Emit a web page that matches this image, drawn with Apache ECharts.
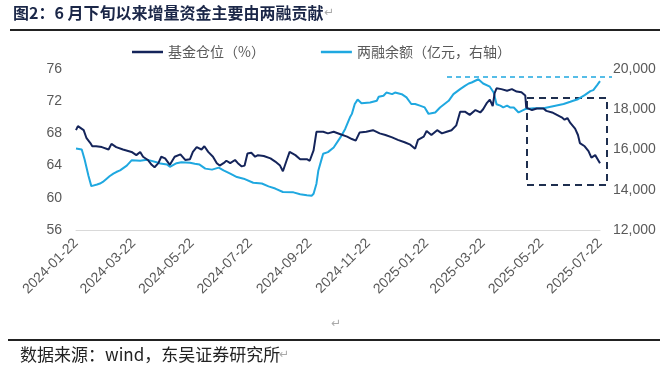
<!DOCTYPE html>
<html><head><meta charset="utf-8">
<script src="https://cdn.jsdelivr.net/npm/echarts@6/dist/echarts.min.js"></script>
<style>html,body{margin:0;padding:0;background:#fff}#c{width:660px;height:371px}</style>
</head><body><div id="c"></div>
<script>
// Tick labels on the date axis
const tickLabels = ['2024-01-22','2024-03-22','2024-05-22','2024-07-22','2024-09-22','2024-11-22','2025-01-22','2025-03-22','2025-05-22','2025-07-22'];
const leftTicks = [56, 60, 64, 68, 72, 76];
const rightTicks = [12000, 14000, 16000, 18000, 20000];

// Series 1: 基金仓位（%）
const fundDates = ['2024-01-22','2024-01-24','2024-01-30','2024-02-02','2024-02-06','2024-02-08','2024-02-12','2024-02-18','2024-02-25','2024-02-28',
'2024-03-04','2024-03-11','2024-03-20','2024-03-25','2024-03-29','2024-04-01','2024-04-06','2024-04-10','2024-04-13','2024-04-17',
'2024-04-20','2024-04-24','2024-04-29','2024-05-04','2024-05-10','2024-05-15','2024-05-20','2024-05-23','2024-05-27','2024-06-01',
'2024-06-04','2024-06-08','2024-06-13','2024-06-17','2024-06-20','2024-06-24','2024-06-27','2024-07-01','2024-07-06','2024-07-09',
'2024-07-13','2024-07-16','2024-07-19','2024-07-23','2024-07-27','2024-07-30','2024-08-05','2024-08-12','2024-08-17','2024-08-22',
'2024-08-25','2024-08-29','2024-09-01','2024-09-07','2024-09-12','2024-09-19','2024-09-22','2024-09-26','2024-09-29','2024-10-06',
'2024-10-11','2024-10-17','2024-10-24','2024-10-31','2024-11-05','2024-11-09','2024-11-13','2024-11-20','2024-11-27','2024-12-04',
'2024-12-10','2024-12-17','2024-12-23','2024-12-30','2025-01-05','2025-01-10','2025-01-12','2025-01-13','2025-01-19','2025-01-22',
'2025-01-27','2025-02-02','2025-02-07','2025-02-12','2025-02-17','2025-02-22','2025-02-26','2025-03-03','2025-03-08','2025-03-14',
'2025-03-19','2025-03-22','2025-03-26','2025-03-29','2025-04-01','2025-04-03','2025-04-05','2025-04-10','2025-04-16','2025-04-21',
'2025-04-26','2025-05-01','2025-05-05','2025-05-06','2025-05-12','2025-05-17','2025-05-24','2025-05-27','2025-06-02','2025-06-07',
'2025-06-12','2025-06-15','2025-06-18','2025-06-21','2025-06-26','2025-06-29','2025-07-01','2025-07-06','2025-07-10','2025-07-13',
'2025-07-17','2025-07-19','2025-07-22'];
const fundValues = [68.4,68.9,68.4,67.4,66.8,66.4,66.4,66.3,66.0,66.7,
66.3,66.0,65.7,65.3,65.7,65.1,64.7,64.1,63.8,64.3,
65.1,64.9,64.1,65.1,65.4,64.7,64.8,65.7,66.3,66.0,
66.4,65.7,65.1,64.3,64.0,64.3,64.6,64.3,64.7,64.3,
63.9,64.0,65.5,65.6,65.1,65.3,65.2,64.9,64.5,64.0,
63.3,64.7,65.7,65.3,64.8,64.8,64.6,65.9,68.2,68.2,
68.0,68.2,67.9,67.6,67.3,67.1,68.1,68.2,68.4,68.0,
67.8,67.5,67.2,66.9,66.6,66.1,66.0,67.2,67.6,68.3,
67.8,68.4,68.0,68.2,68.4,69.0,70.7,70.7,70.3,70.9,
70.6,71.0,71.8,72.2,71.4,73.0,73.6,73.5,73.3,73.5,
73.2,73.1,72.7,71.2,70.9,71.1,71.1,70.8,70.6,70.3,
70.0,69.7,69.9,69.3,68.6,67.8,66.8,66.4,65.8,65.0,
65.3,65.1,64.3];

// Series 2: 两融余额（亿元，右轴）
const marginDates = ['2024-01-22','2024-01-28','2024-01-31','2024-02-04','2024-02-07','2024-02-13','2024-02-16','2024-02-19','2024-02-23','2024-02-26',
'2024-03-01','2024-03-04','2024-03-08','2024-03-15','2024-03-20','2024-03-29','2024-04-05','2024-04-08','2024-04-15','2024-04-19',
'2024-04-26','2024-04-29','2024-05-06','2024-05-11','2024-05-20','2024-05-25','2024-05-30','2024-06-05','2024-06-12','2024-06-19',
'2024-06-24','2024-07-01','2024-07-08','2024-07-15','2024-07-25','2024-08-03','2024-08-10','2024-08-17','2024-08-25','2024-09-05',
'2024-09-12','2024-09-19','2024-09-24','2024-09-26','2024-09-29','2024-10-01','2024-10-04','2024-10-06','2024-10-11','2024-10-17',
'2024-10-24','2024-10-29','2024-10-31','2024-11-03','2024-11-05','2024-11-08','2024-11-11','2024-11-15','2024-11-24','2024-12-01',
'2024-12-03','2024-12-08','2024-12-11','2024-12-17','2024-12-20','2024-12-27','2025-01-01','2025-01-06','2025-01-10','2025-01-15',
'2025-01-20','2025-01-24','2025-01-26','2025-01-27','2025-01-31','2025-02-05','2025-02-14','2025-02-19','2025-02-26','2025-03-03',
'2025-03-07','2025-03-10','2025-03-12','2025-03-17','2025-03-22','2025-03-29','2025-03-31','2025-04-02','2025-04-05','2025-04-09',
'2025-04-12','2025-04-16','2025-04-19','2025-04-23','2025-04-28','2025-04-30','2025-05-05','2025-05-14','2025-05-24','2025-06-03',
'2025-06-14','2025-06-21','2025-06-24','2025-06-29','2025-07-01','2025-07-06','2025-07-12','2025-07-15','2025-07-19','2025-07-22'];
const marginValues = [16050,16000,15500,14700,14180,14260,14310,14390,14550,14670,
14800,14880,14960,15200,15460,15440,15490,15460,15370,15300,
15260,15140,15320,15370,15340,15290,15250,15050,15000,15100,
14960,14800,14630,14550,14350,14310,14170,14060,13890,13870,
13780,13730,13700,13800,14300,14960,15460,15790,15870,16100,
16600,17020,17100,17600,17770,18260,18480,18300,18340,18420,
18620,18670,18830,18750,18830,18750,18590,18260,18260,18180,
18090,17770,17720,17800,17840,18090,18420,18750,19000,19160,
19280,19330,19380,19490,19280,19120,19080,18830,18250,18180,
18090,18180,18090,18090,17840,17930,18010,18050,18050,18150,
18260,18370,18420,18500,18550,18700,18900,18950,19200,19400];

// Calendar-day categories spanning the axis
function pad(n){return n<10?'0'+n:''+n;}
const categories = [];
(function(){
  const start = Date.UTC(2024,0,22), end = Date.UTC(2025,6,22);
  for (let t = start; t <= end; t += 86400000) {
    const d = new Date(t);
    categories.push(d.getUTCFullYear()+'-'+pad(d.getUTCMonth()+1)+'-'+pad(d.getUTCDate()));
  }
})();
const tickSet = new Set(tickLabels);
const fundData = fundDates.map((d,i)=>[d, fundValues[i]]);
const marginData = marginDates.map((d,i)=>[d, marginValues[i]]);

const DARK = '#14245a', LIGHT = '#1fa8e0';
const chart = echarts.init(document.getElementById('c'), null, {renderer:'canvas'});
chart.setOption({
  animation: false,
  backgroundColor: '#fff',
  grid: {left: 76, right: 60, top: 69, height: 161, containLabel: false},
  legend: {
    left: 132, top: 45, padding: 0, icon: 'rect', itemWidth: 31, itemHeight: 2.5, itemGap: 56,
    textStyle: {fontFamily: 'Noto Sans CJK SC', fontSize: 14, color: '#595959'},
    data: ['基金仓位（%）', '两融余额（亿元，右轴）']
  },
  xAxis: {
    type: 'category', data: categories, boundaryGap: false,
    axisLine: {show: true, lineStyle: {color: '#d9d9d9', width: 1}},
    axisTick: {show: false},
    splitLine: {show: false},
    axisLabel: {
      interval: function(idx, val){ return tickSet.has(val); },
      rotate: 45, margin: 11, fontSize: 14, color: '#595959', fontFamily: 'Liberation Sans'
    }
  },
  yAxis: [
    {type: 'value', min: leftTicks[0], max: leftTicks[leftTicks.length-1], interval: 4,
     axisLine: {show: false}, axisTick: {show: false}, splitLine: {show: false},
     axisLabel: {margin: 14, fontSize: 14, color: '#595959', fontFamily: 'Liberation Sans'}},
    {type: 'value', min: rightTicks[0], max: rightTicks[rightTicks.length-1], interval: 2000,
     axisLine: {show: false}, axisTick: {show: false}, splitLine: {show: false},
     axisLabel: {margin: 13, fontSize: 14, color: '#595959', fontFamily: 'Liberation Sans'}}
  ],
  series: [
    {name: '基金仓位（%）', type: 'line', yAxisIndex: 0, data: fundData, showSymbol: false,
     lineStyle: {color: DARK, width: 2}, itemStyle: {color: DARK}, z: 3},
    {name: '两融余额（亿元，右轴）', type: 'line', yAxisIndex: 1, data: marginData, showSymbol: false,
     lineStyle: {color: LIGHT, width: 2}, itemStyle: {color: LIGHT}, z: 2}
  ],
  graphic: [
    {type: 'text', left: 13, top: 5, style: {text: '图2：6 月下旬以来增量资金主要由两融贡献', font: 'bold 16px "Noto Sans CJK SC"', fill: '#1b2748'}},
    {type: 'text', left: 324, top: 7, style: {text: '↵', font: '12px "DejaVu Sans"', fill: '#aaaaaa'}},
    {type: 'line', shape: {x1: 10, y1: 30, x2: 660, y2: 30}, style: {stroke: '#222', lineWidth: 2}},
    {type: 'line', shape: {x1: 8, y1: 340, x2: 660, y2: 340}, style: {stroke: '#222', lineWidth: 2}},
    {type: 'text', left: 331, top: 318, style: {text: '↵', font: '12px "DejaVu Sans"', fill: '#aaaaaa'}},
    {type: 'text', left: 20, top: 346, style: {text: '数据来源：wind，东吴证券研究所', font: '17px "Noto Sans CJK SC"', fill: '#222'}},
    {type: 'text', left: 279, top: 349, style: {text: '↵', font: '12px "DejaVu Sans"', fill: '#aaaaaa'}},
    {type: 'line', shape: {x1: 447, y1: 77, x2: 612, y2: 77}, style: {stroke: LIGHT, lineWidth: 1.5, lineDash: [5,4]}},
    {type: 'rect', shape: {x: 527, y: 98, width: 80, height: 87}, style: {fill: 'none', stroke: '#1f2f4f', lineWidth: 2, lineDash: [7,5]}}
  ]
});
</script></body></html>
